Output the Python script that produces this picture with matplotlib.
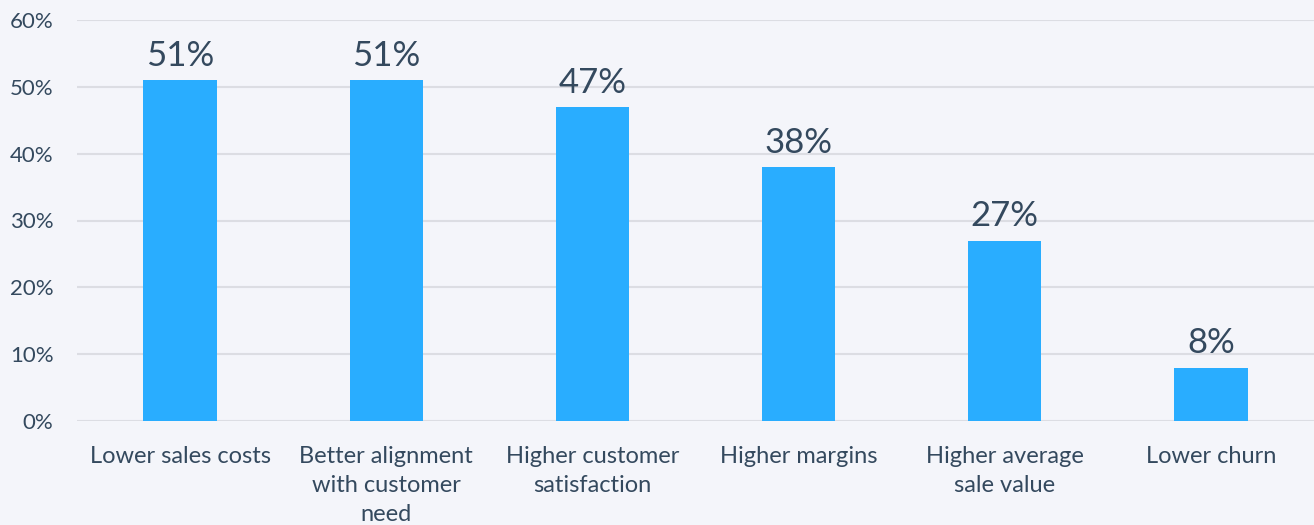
import matplotlib.pyplot as plt
from matplotlib.ticker import PercentFormatter

categories = ['Lower sales costs', 'Better alignment\nwith customer\nneed',
              'Higher customer\nsatisfaction', 'Higher margins',
              'Higher average\nsale value', 'Lower churn']
values = [51, 51, 47, 38, 27, 8]

plt.rcParams['font.family'] = ['Lato', 'DejaVu Sans']
text_color = '#34495e'
bg = '#f4f5fa'

fig = plt.figure(figsize=(13.14, 5.25), dpi=100, facecolor=bg)
ax = fig.add_axes([0.0586, 0.198, 0.9414, 0.764], facecolor=bg)

x = range(len(categories))
bars = ax.bar(x, values, width=0.355, color='#29adff', zorder=3)

ax.set_xlim(-0.5, len(categories) - 0.5)
ax.set_ylim(0, 60)
ax.set_yticks(range(0, 61, 10))
ax.yaxis.set_major_formatter(PercentFormatter(decimals=0))
ax.grid(axis='y', color='#dcdde3', linewidth=1.5, zorder=0)
for s in ax.spines.values():
    s.set_visible(False)
ax.tick_params(axis='both', length=0, colors=text_color)
ax.tick_params(axis='y', labelsize=16, pad=17)
ax.tick_params(axis='x', labelsize=17, pad=18)
ax.set_xticks(list(x))
ax.set_xticklabels(categories, linespacing=1.48, va='top')

# value labels above bars
for b, v in zip(bars, values):
    ax.annotate(f'{v}%', (b.get_x() + b.get_width() / 2, v),
                xytext=(0, 6), textcoords='offset points',
                ha='center', va='bottom', fontsize=25, color=text_color)

fig.savefig('out.png', dpi=100, facecolor=bg)
